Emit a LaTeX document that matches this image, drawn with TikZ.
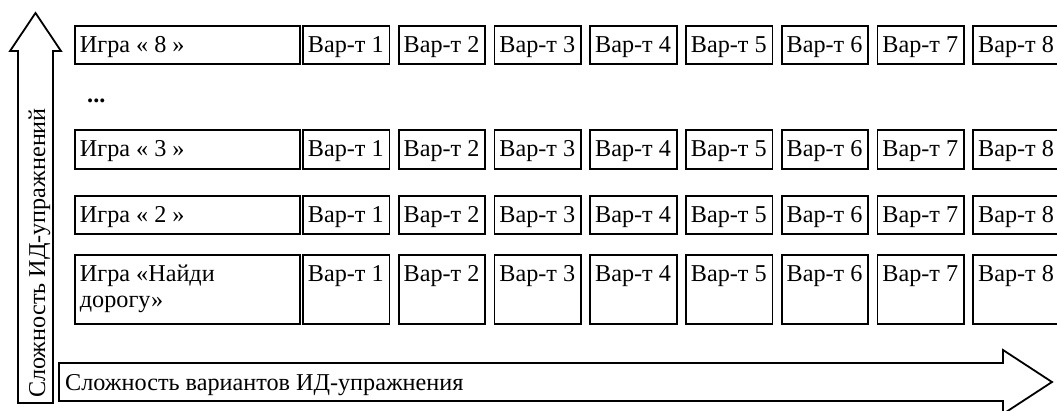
\documentclass[tikz,border=0pt]{standalone}
\usepackage{fontspec}
\setmainfont{Liberation Serif}
\newcommand{\cellin}[3]{\parbox[b][#2][t]{#1}{\rule{0pt}{27pt}#3}}
\begin{document}
\begin{tikzpicture}[x=1pt,y=-1pt,
  frame/.style={draw=black,line width=1.8pt,line join=miter},
  cell/.style={frame, anchor=north west, inner xsep=5pt, inner ysep=0pt, font=\fontsize{24.2}{26}\selectfont},
  lbl/.style={anchor=base west, inner sep=0pt, font=\fontsize{24.2}{26}\selectfont}]
\useasboundingbox[fill=white] (0,0) rectangle (1057,410);
% axes arrows
\draw[frame,fill=white] (18,403) -- (18,51) -- (10,51) -- (35.5,13) -- (61,51) -- (53,51) -- (53,403) -- cycle;
\draw[frame,fill=white] (59,363) -- (1003,363) -- (1003,350) -- (1052,382) -- (1003,414) -- (1003,401) -- (59,401) -- cycle;
\node[lbl,rotate=90] (ylab) at (45,398) {Сложность ИД-упражнений};
\node[lbl] (xlab) at (65,390) {Сложность вариантов ИД-упражнения};
% game boxes
\node[cell] (g8) at (74,25) {\cellin{215pt}{38pt}{Игра « 8 »}};
\node[lbl,font=\fontsize{24.2}{26}\selectfont\bfseries] (dots) at (87,102) {...};
\node[cell] (g3) at (74,129) {\cellin{215pt}{39pt}{Игра « 3 »}};
\node[cell] (g2) at (74,195) {\cellin{215pt}{38pt}{Игра « 2 »}};
\node[cell] (g1) at (74,254) {\cellin{215pt}{69pt}{Игра «Найди\\дорогу»}};
% variant boxes
\foreach \r/\top/\h in {8/25/38, 3/129/39, 2/195/38, 1/254/69}{
  \foreach \k in {1,...,8}{
    \node[cell] (v-\r-\k) at ({302+(\k-1)*95.75},\top) {\cellin{76.5pt}{\h pt}{Вар-т \k}};
  }
}
\end{tikzpicture}
\end{document}
